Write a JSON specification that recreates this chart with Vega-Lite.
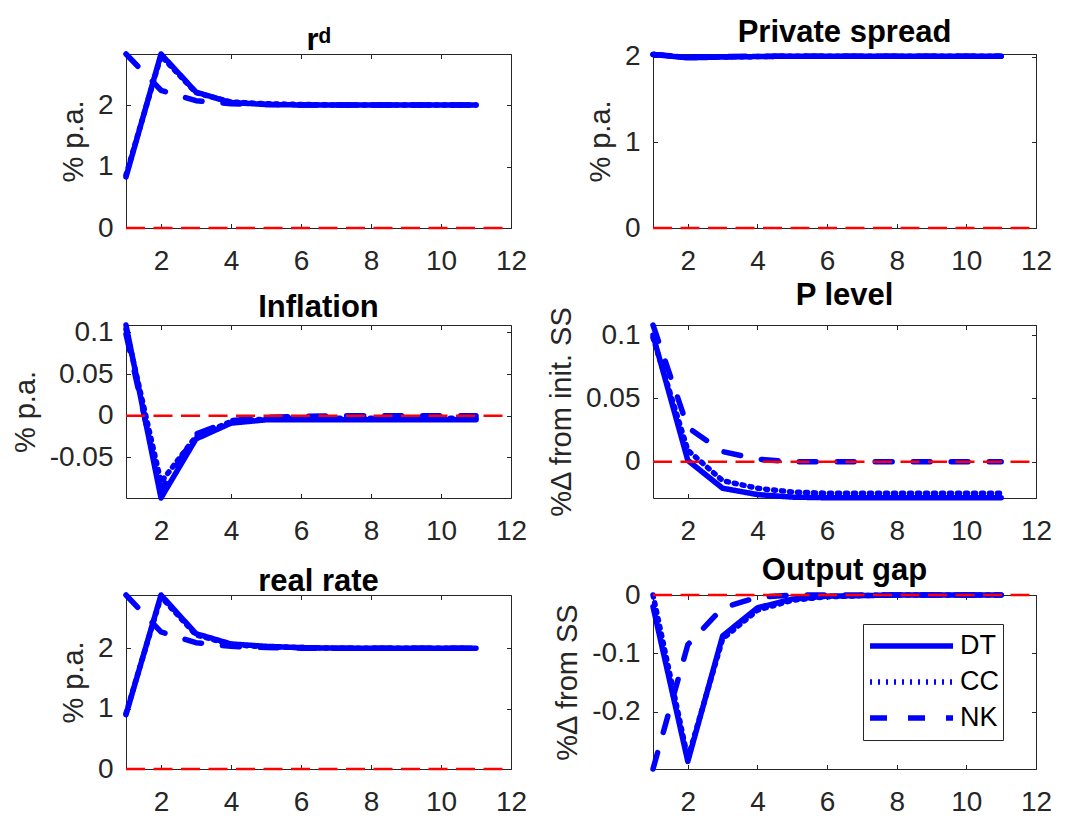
{
  "$schema": "https://vega.github.io/schema/vega-lite/v6.json",
  "background": "white",
  "padding": {"left": 10, "top": 16, "right": 5, "bottom": 5},
  "bounds": "flush",
  "columns": 2,
  "spacing": {"row": 97, "column": 142},
  "datasets": {
    "irf": [
      {"p":"rd","m":"DT","t":1,"v":0.83},{"p":"rd","m":"DT","t":2,"v":2.83},{"p":"rd","m":"DT","t":3,"v":2.21},{"p":"rd","m":"DT","t":4,"v":2.04},{"p":"rd","m":"DT","t":5,"v":2.01},{"p":"rd","m":"DT","t":6,"v":2.0},{"p":"rd","m":"DT","t":7,"v":2.0},{"p":"rd","m":"DT","t":8,"v":2.0},{"p":"rd","m":"DT","t":9,"v":2.0},{"p":"rd","m":"DT","t":10,"v":2.0},{"p":"rd","m":"DT","t":11,"v":2.0},
      {"p":"rd","m":"CC","t":1,"v":0.86},{"p":"rd","m":"CC","t":2,"v":2.8},{"p":"rd","m":"CC","t":3,"v":2.2},{"p":"rd","m":"CC","t":4,"v":2.05},{"p":"rd","m":"CC","t":5,"v":2.02},{"p":"rd","m":"CC","t":6,"v":2.01},{"p":"rd","m":"CC","t":7,"v":2.0},{"p":"rd","m":"CC","t":8,"v":2.0},{"p":"rd","m":"CC","t":9,"v":2.0},{"p":"rd","m":"CC","t":10,"v":2.0},{"p":"rd","m":"CC","t":11,"v":2.0},
      {"p":"rd","m":"NK","t":1,"v":2.83},{"p":"rd","m":"NK","t":2,"v":2.24},{"p":"rd","m":"NK","t":3,"v":2.07},{"p":"rd","m":"NK","t":4,"v":2.02},{"p":"rd","m":"NK","t":5,"v":2.01},{"p":"rd","m":"NK","t":6,"v":2.0},{"p":"rd","m":"NK","t":7,"v":2.0},{"p":"rd","m":"NK","t":8,"v":2.0},{"p":"rd","m":"NK","t":9,"v":2.0},{"p":"rd","m":"NK","t":10,"v":2.0},{"p":"rd","m":"NK","t":11,"v":2.0},

      {"p":"spread","m":"DT","t":1,"v":2.03},{"p":"spread","m":"DT","t":2,"v":1.99},{"p":"spread","m":"DT","t":3,"v":2.0},{"p":"spread","m":"DT","t":4,"v":2.005},{"p":"spread","m":"DT","t":5,"v":2.01},{"p":"spread","m":"DT","t":6,"v":2.01},{"p":"spread","m":"DT","t":7,"v":2.01},{"p":"spread","m":"DT","t":8,"v":2.01},{"p":"spread","m":"DT","t":9,"v":2.01},{"p":"spread","m":"DT","t":10,"v":2.01},{"p":"spread","m":"DT","t":11,"v":2.01},
      {"p":"spread","m":"CC","t":1,"v":2.03},{"p":"spread","m":"CC","t":2,"v":1.995},{"p":"spread","m":"CC","t":3,"v":2.0},{"p":"spread","m":"CC","t":4,"v":2.005},{"p":"spread","m":"CC","t":5,"v":2.01},{"p":"spread","m":"CC","t":6,"v":2.01},{"p":"spread","m":"CC","t":7,"v":2.01},{"p":"spread","m":"CC","t":8,"v":2.01},{"p":"spread","m":"CC","t":9,"v":2.01},{"p":"spread","m":"CC","t":10,"v":2.01},{"p":"spread","m":"CC","t":11,"v":2.01},
      {"p":"spread","m":"NK","t":1,"v":2.03},{"p":"spread","m":"NK","t":2,"v":2.0},{"p":"spread","m":"NK","t":3,"v":2.005},{"p":"spread","m":"NK","t":4,"v":2.01},{"p":"spread","m":"NK","t":5,"v":2.01},{"p":"spread","m":"NK","t":6,"v":2.01},{"p":"spread","m":"NK","t":7,"v":2.01},{"p":"spread","m":"NK","t":8,"v":2.01},{"p":"spread","m":"NK","t":9,"v":2.01},{"p":"spread","m":"NK","t":10,"v":2.01},{"p":"spread","m":"NK","t":11,"v":2.01},

      {"p":"infl","m":"DT","t":1,"v":0.109},{"p":"infl","m":"DT","t":2,"v":-0.099},{"p":"infl","m":"DT","t":3,"v":-0.028},{"p":"infl","m":"DT","t":4,"v":-0.009},{"p":"infl","m":"DT","t":5,"v":-0.005},{"p":"infl","m":"DT","t":6,"v":-0.005},{"p":"infl","m":"DT","t":7,"v":-0.005},{"p":"infl","m":"DT","t":8,"v":-0.005},{"p":"infl","m":"DT","t":9,"v":-0.005},{"p":"infl","m":"DT","t":10,"v":-0.005},{"p":"infl","m":"DT","t":11,"v":-0.005},
      {"p":"infl","m":"CC","t":1,"v":0.104},{"p":"infl","m":"CC","t":2,"v":-0.08},{"p":"infl","m":"CC","t":3,"v":-0.025},{"p":"infl","m":"CC","t":4,"v":-0.007},{"p":"infl","m":"CC","t":5,"v":-0.004},{"p":"infl","m":"CC","t":6,"v":-0.003},{"p":"infl","m":"CC","t":7,"v":-0.003},{"p":"infl","m":"CC","t":8,"v":-0.003},{"p":"infl","m":"CC","t":9,"v":-0.003},{"p":"infl","m":"CC","t":10,"v":-0.003},{"p":"infl","m":"CC","t":11,"v":-0.003},
      {"p":"infl","m":"NK","t":1,"v":0.098},{"p":"infl","m":"NK","t":2,"v":-0.09},{"p":"infl","m":"NK","t":3,"v":-0.022},{"p":"infl","m":"NK","t":4,"v":-0.006},{"p":"infl","m":"NK","t":5,"v":-0.002},{"p":"infl","m":"NK","t":6,"v":-0.001},{"p":"infl","m":"NK","t":7,"v":0.0},{"p":"infl","m":"NK","t":8,"v":0.0},{"p":"infl","m":"NK","t":9,"v":0.0},{"p":"infl","m":"NK","t":10,"v":0.0},{"p":"infl","m":"NK","t":11,"v":0.0},

      {"p":"plevel","m":"DT","t":1,"v":0.1},{"p":"plevel","m":"DT","t":2,"v":0.001},{"p":"plevel","m":"DT","t":3,"v":-0.021},{"p":"plevel","m":"DT","t":4,"v":-0.026},{"p":"plevel","m":"DT","t":5,"v":-0.028},{"p":"plevel","m":"DT","t":6,"v":-0.0285},{"p":"plevel","m":"DT","t":7,"v":-0.0285},{"p":"plevel","m":"DT","t":8,"v":-0.0285},{"p":"plevel","m":"DT","t":9,"v":-0.0285},{"p":"plevel","m":"DT","t":10,"v":-0.0285},{"p":"plevel","m":"DT","t":11,"v":-0.0285},
      {"p":"plevel","m":"CC","t":1,"v":0.098},{"p":"plevel","m":"CC","t":2,"v":0.009},{"p":"plevel","m":"CC","t":3,"v":-0.015},{"p":"plevel","m":"CC","t":4,"v":-0.021},{"p":"plevel","m":"CC","t":5,"v":-0.024},{"p":"plevel","m":"CC","t":6,"v":-0.025},{"p":"plevel","m":"CC","t":7,"v":-0.025},{"p":"plevel","m":"CC","t":8,"v":-0.025},{"p":"plevel","m":"CC","t":9,"v":-0.025},{"p":"plevel","m":"CC","t":10,"v":-0.025},{"p":"plevel","m":"CC","t":11,"v":-0.025},
      {"p":"plevel","m":"NK","t":1,"v":0.108},{"p":"plevel","m":"NK","t":2,"v":0.027},{"p":"plevel","m":"NK","t":3,"v":0.008},{"p":"plevel","m":"NK","t":4,"v":0.002},{"p":"plevel","m":"NK","t":5,"v":0.0},{"p":"plevel","m":"NK","t":6,"v":0.0},{"p":"plevel","m":"NK","t":7,"v":0.0},{"p":"plevel","m":"NK","t":8,"v":0.0},{"p":"plevel","m":"NK","t":9,"v":0.0},{"p":"plevel","m":"NK","t":10,"v":0.0},{"p":"plevel","m":"NK","t":11,"v":0.0},

      {"p":"rr","m":"DT","t":1,"v":0.9},{"p":"rr","m":"DT","t":2,"v":2.88},{"p":"rr","m":"DT","t":3,"v":2.24},{"p":"rr","m":"DT","t":4,"v":2.07},{"p":"rr","m":"DT","t":5,"v":2.03},{"p":"rr","m":"DT","t":6,"v":2.01},{"p":"rr","m":"DT","t":7,"v":2.0},{"p":"rr","m":"DT","t":8,"v":2.0},{"p":"rr","m":"DT","t":9,"v":2.0},{"p":"rr","m":"DT","t":10,"v":2.0},{"p":"rr","m":"DT","t":11,"v":2.0},
      {"p":"rr","m":"CC","t":1,"v":0.92},{"p":"rr","m":"CC","t":2,"v":2.85},{"p":"rr","m":"CC","t":3,"v":2.22},{"p":"rr","m":"CC","t":4,"v":2.06},{"p":"rr","m":"CC","t":5,"v":2.02},{"p":"rr","m":"CC","t":6,"v":2.01},{"p":"rr","m":"CC","t":7,"v":2.0},{"p":"rr","m":"CC","t":8,"v":2.0},{"p":"rr","m":"CC","t":9,"v":2.0},{"p":"rr","m":"CC","t":10,"v":2.0},{"p":"rr","m":"CC","t":11,"v":2.0},
      {"p":"rr","m":"NK","t":1,"v":2.88},{"p":"rr","m":"NK","t":2,"v":2.27},{"p":"rr","m":"NK","t":3,"v":2.09},{"p":"rr","m":"NK","t":4,"v":2.03},{"p":"rr","m":"NK","t":5,"v":2.01},{"p":"rr","m":"NK","t":6,"v":2.0},{"p":"rr","m":"NK","t":7,"v":2.0},{"p":"rr","m":"NK","t":8,"v":2.0},{"p":"rr","m":"NK","t":9,"v":2.0},{"p":"rr","m":"NK","t":10,"v":2.0},{"p":"rr","m":"NK","t":11,"v":2.0},

      {"p":"gap","m":"DT","t":1,"v":-0.02},{"p":"gap","m":"DT","t":2,"v":-0.285},{"p":"gap","m":"DT","t":3,"v":-0.07},{"p":"gap","m":"DT","t":4,"v":-0.022},{"p":"gap","m":"DT","t":5,"v":-0.007},{"p":"gap","m":"DT","t":6,"v":-0.002},{"p":"gap","m":"DT","t":7,"v":-0.001},{"p":"gap","m":"DT","t":8,"v":0.0},{"p":"gap","m":"DT","t":9,"v":0.0},{"p":"gap","m":"DT","t":10,"v":0.0},{"p":"gap","m":"DT","t":11,"v":0.0},
      {"p":"gap","m":"CC","t":1,"v":0.0},{"p":"gap","m":"CC","t":2,"v":-0.28},{"p":"gap","m":"CC","t":3,"v":-0.075},{"p":"gap","m":"CC","t":4,"v":-0.026},{"p":"gap","m":"CC","t":5,"v":-0.009},{"p":"gap","m":"CC","t":6,"v":-0.003},{"p":"gap","m":"CC","t":7,"v":-0.001},{"p":"gap","m":"CC","t":8,"v":0.0},{"p":"gap","m":"CC","t":9,"v":0.0},{"p":"gap","m":"CC","t":10,"v":0.0},{"p":"gap","m":"CC","t":11,"v":0.0},
      {"p":"gap","m":"NK","t":1,"v":-0.298},{"p":"gap","m":"NK","t":2,"v":-0.085},{"p":"gap","m":"NK","t":3,"v":-0.022},{"p":"gap","m":"NK","t":4,"v":-0.004},{"p":"gap","m":"NK","t":5,"v":0.0},{"p":"gap","m":"NK","t":6,"v":0.0},{"p":"gap","m":"NK","t":7,"v":0.0},{"p":"gap","m":"NK","t":8,"v":0.0},{"p":"gap","m":"NK","t":9,"v":0.0},{"p":"gap","m":"NK","t":10,"v":0.0},{"p":"gap","m":"NK","t":11,"v":0.0}
    ],
    "zero": [{"z": 0}]
  },
  "concat": [
    {
      "width": 385, "height": 174,
      "title": "rᵈ",
      "layer": [
        {"data": {"name": "irf"}, "transform": [{"filter": "datum.p === 'rd'"}],
         "mark": {"type": "line", "stroke": "#0000ff", "strokeWidth": 5.5, "strokeCap": "round", "strokeJoin": "round"},
         "encoding": {
           "x": {"field": "t", "type": "quantitative", "scale": {"domain": [1, 12], "nice": false}, "axis": {"values": [2,4,6,8,10,12], "title": null}},
           "y": {"field": "v", "type": "quantitative", "scale": {"domain": [0, 2.83], "nice": false, "zero": false}, "axis": {"values": [0,1,2], "title": "% p.a."}},
           "strokeDash": {"field": "m", "type": "nominal", "scale": {"domain": ["DT","CC","NK"], "range": [[1,0],[2,6],[17,21]]}, "legend": null}
         }},
        {"data": {"name": "zero"},
         "mark": {"type": "rule", "stroke": "#ff0000", "strokeWidth": 2.5, "strokeDash": [19, 8.5]},
         "encoding": {
           "x": {"datum": 1, "type": "quantitative", "axis": {"orient": "top", "labels": false, "title": null, "values": [2,4,6,8,10,12]}},
           "x2": {"datum": 12},
           "y": {"field": "z", "type": "quantitative", "axis": {"orient": "right", "labels": false, "title": null, "values": [0,1,2]}}
         }}
      ],
      "resolve": {"axis": {"x": "independent", "y": "independent"}}
    },
    {
      "width": 383, "height": 174,
      "title": "Private spread",
      "layer": [
        {"data": {"name": "irf"}, "transform": [{"filter": "datum.p === 'spread'"}],
         "mark": {"type": "line", "stroke": "#0000ff", "strokeWidth": 5.5, "strokeCap": "round", "strokeJoin": "round"},
         "encoding": {
           "x": {"field": "t", "type": "quantitative", "scale": {"domain": [1, 12], "nice": false}, "axis": {"values": [2,4,6,8,10,12], "title": null}},
           "y": {"field": "v", "type": "quantitative", "scale": {"domain": [0, 2.035], "nice": false, "zero": false}, "axis": {"values": [0,1,2], "title": "% p.a."}},
           "strokeDash": {"field": "m", "type": "nominal", "scale": {"domain": ["DT","CC","NK"], "range": [[1,0],[2,6],[17,21]]}, "legend": null}
         }},
        {"data": {"name": "zero"},
         "mark": {"type": "rule", "stroke": "#ff0000", "strokeWidth": 2.5, "strokeDash": [19, 8.5]},
         "encoding": {
           "x": {"datum": 1, "type": "quantitative", "axis": {"orient": "top", "labels": false, "title": null, "values": [2,4,6,8,10,12]}},
           "x2": {"datum": 12},
           "y": {"field": "z", "type": "quantitative", "axis": {"orient": "right", "labels": false, "title": null, "values": [0,1,2]}}
         }}
      ],
      "resolve": {"axis": {"x": "independent", "y": "independent"}}
    },
    {
      "width": 385, "height": 173,
      "title": "Inflation",
      "layer": [
        {"data": {"name": "irf"}, "transform": [{"filter": "datum.p === 'infl'"}],
         "mark": {"type": "line", "stroke": "#0000ff", "strokeWidth": 5.5, "strokeCap": "round", "strokeJoin": "round"},
         "encoding": {
           "x": {"field": "t", "type": "quantitative", "scale": {"domain": [1, 12], "nice": false}, "axis": {"values": [2,4,6,8,10,12], "title": null}},
           "y": {"field": "v", "type": "quantitative", "scale": {"domain": [-0.099, 0.109], "nice": false, "zero": false}, "axis": {"values": [-0.05,0,0.05,0.1], "title": "% p.a."}},
           "strokeDash": {"field": "m", "type": "nominal", "scale": {"domain": ["DT","CC","NK"], "range": [[1,0],[2,6],[17,21]]}, "legend": null}
         }},
        {"data": {"name": "zero"},
         "mark": {"type": "rule", "stroke": "#ff0000", "strokeWidth": 2.5, "strokeDash": [19, 8.5]},
         "encoding": {
           "x": {"datum": 1, "type": "quantitative", "axis": {"orient": "top", "labels": false, "title": null, "values": [2,4,6,8,10,12]}},
           "x2": {"datum": 12},
           "y": {"field": "z", "type": "quantitative", "axis": {"orient": "right", "labels": false, "title": null, "values": [-0.05,0,0.05,0.1]}}
         }}
      ],
      "resolve": {"axis": {"x": "independent", "y": "independent"}}
    },
    {
      "width": 383, "height": 173,
      "title": "P level",
      "layer": [
        {"data": {"name": "irf"}, "transform": [{"filter": "datum.p === 'plevel'"}],
         "mark": {"type": "line", "stroke": "#0000ff", "strokeWidth": 5.5, "strokeCap": "round", "strokeJoin": "round"},
         "encoding": {
           "x": {"field": "t", "type": "quantitative", "scale": {"domain": [1, 12], "nice": false}, "axis": {"values": [2,4,6,8,10,12], "title": null}},
           "y": {"field": "v", "type": "quantitative", "scale": {"domain": [-0.0287, 0.108], "nice": false, "zero": false}, "axis": {"values": [0,0.05,0.1], "title": "%Δ from init. SS"}},
           "strokeDash": {"field": "m", "type": "nominal", "scale": {"domain": ["DT","CC","NK"], "range": [[1,0],[2,6],[17,21]]}, "legend": null}
         }},
        {"data": {"name": "zero"},
         "mark": {"type": "rule", "stroke": "#ff0000", "strokeWidth": 2.5, "strokeDash": [19, 8.5]},
         "encoding": {
           "x": {"datum": 1, "type": "quantitative", "axis": {"orient": "top", "labels": false, "title": null, "values": [2,4,6,8,10,12]}},
           "x2": {"datum": 12},
           "y": {"field": "z", "type": "quantitative", "axis": {"orient": "right", "labels": false, "title": null, "values": [0,0.05,0.1]}}
         }}
      ],
      "resolve": {"axis": {"x": "independent", "y": "independent"}}
    },
    {
      "width": 385, "height": 174,
      "title": "real rate",
      "layer": [
        {"data": {"name": "irf"}, "transform": [{"filter": "datum.p === 'rr'"}],
         "mark": {"type": "line", "stroke": "#0000ff", "strokeWidth": 5.5, "strokeCap": "round", "strokeJoin": "round"},
         "encoding": {
           "x": {"field": "t", "type": "quantitative", "scale": {"domain": [1, 12], "nice": false}, "axis": {"values": [2,4,6,8,10,12], "title": null}},
           "y": {"field": "v", "type": "quantitative", "scale": {"domain": [0, 2.88], "nice": false, "zero": false}, "axis": {"values": [0,1,2], "title": "% p.a."}},
           "strokeDash": {"field": "m", "type": "nominal", "scale": {"domain": ["DT","CC","NK"], "range": [[1,0],[2,6],[17,21]]}, "legend": null}
         }},
        {"data": {"name": "zero"},
         "mark": {"type": "rule", "stroke": "#ff0000", "strokeWidth": 2.5, "strokeDash": [19, 8.5]},
         "encoding": {
           "x": {"datum": 1, "type": "quantitative", "axis": {"orient": "top", "labels": false, "title": null, "values": [2,4,6,8,10,12]}},
           "x2": {"datum": 12},
           "y": {"field": "z", "type": "quantitative", "axis": {"orient": "right", "labels": false, "title": null, "values": [0,1,2]}}
         }}
      ],
      "resolve": {"axis": {"x": "independent", "y": "independent"}}
    },
    {
      "width": 383, "height": 174,
      "title": "Output gap",
      "layer": [
        {"data": {"name": "irf"}, "transform": [{"filter": "datum.p === 'gap'"}],
         "mark": {"type": "line", "stroke": "#0000ff", "strokeWidth": 5.5, "strokeCap": "round", "strokeJoin": "round"},
         "encoding": {
           "x": {"field": "t", "type": "quantitative", "scale": {"domain": [1, 12], "nice": false}, "axis": {"values": [2,4,6,8,10,12], "title": null}},
           "y": {"field": "v", "type": "quantitative", "scale": {"domain": [-0.298, 0], "nice": false, "zero": false}, "axis": {"values": [-0.2,-0.1,0], "title": "%Δ from SS"}},
           "strokeDash": {"field": "m", "type": "nominal", "scale": {"domain": ["DT","CC","NK"], "range": [[1,0],[2,6],[17,21]]},
             "legend": {"orient": "none", "legendX": 210, "legendY": 29, "title": null, "direction": "vertical", "symbolType": "stroke", "symbolSize": 6889, "symbolStrokeWidth": 5.5, "symbolStrokeColor": "#0000ff", "labelFontSize": 27, "labelFont": "Liberation Sans", "labelColor": "#000000", "labelOffset": 4, "padding": 4, "strokeColor": "#262626", "fillColor": "#ffffff", "clipHeight": 36, "rowPadding": 0}}
         }},
        {"data": {"name": "zero"},
         "mark": {"type": "rule", "stroke": "#ff0000", "strokeWidth": 2.5, "strokeDash": [19, 8.5]},
         "encoding": {
           "x": {"datum": 1, "type": "quantitative", "axis": {"orient": "top", "labels": false, "title": null, "values": [2,4,6,8,10,12]}},
           "x2": {"datum": 12},
           "y": {"field": "z", "type": "quantitative", "axis": {"orient": "right", "labels": false, "title": null, "values": [-0.2,-0.1,0]}}
         }}
      ],
      "resolve": {"axis": {"x": "independent", "y": "independent"}}
    }
  ],
  "resolve": {"legend": {"strokeDash": "independent"}},
  "config": {
    "font": "Liberation Sans",
    "view": {"stroke": "#262626", "strokeWidth": 1},
    "axis": {"grid": false, "domain": false, "tickSize": -4.5, "tickColor": "#262626", "tickWidth": 1, "labelFont": "Liberation Sans", "labelFontSize": 28, "labelColor": "#262626", "labelFlush": false, "labelExpr": "'' + datum.value", "titleFont": "Liberation Sans", "titleFontSize": 29, "titleFontWeight": "normal", "titleColor": "#262626", "titlePadding": 9},
    "axisX": {"labelPadding": 24},
    "axisY": {"labelPadding": 17.5},
    "title": {"font": "Liberation Sans", "fontSize": 31, "fontWeight": "bold", "color": "#000000", "offset": -6, "baseline": "alphabetic"}
  }
}
